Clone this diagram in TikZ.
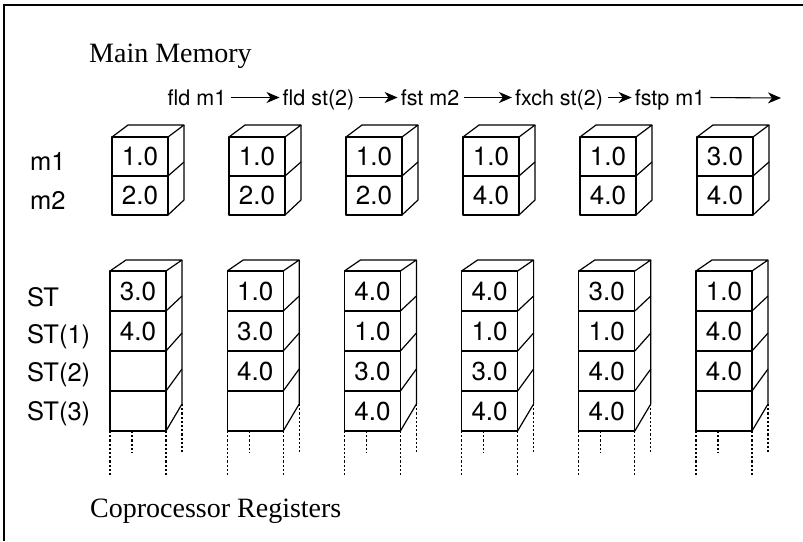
\documentclass[tikz,border=0pt]{standalone}
\usepackage{fontspec}
\setmainfont{Liberation Serif}
\newfontfamily\hv{TeX Gyre Heros}
\usetikzlibrary{arrows.meta}
\begin{document}
\begin{tikzpicture}[x=1pt,y=-1pt,
  edge/.style={line width=1.2pt, line join=round},
  cell/.style={edge, draw, rectangle, minimum width=56pt, minimum height=#1,
    inner sep=0pt, outer sep=0pt, anchor=north west,
    font=\hv\fontsize{26}{30}\selectfont},
  hidden/.style={line width=1.1pt, dash pattern=on 2.2pt off 2pt},
  rowlabel/.style={anchor=base west, inner sep=0pt, font=\hv\fontsize{25.5}{30}\selectfont},
  title/.style={anchor=base west, inner sep=0pt, font=\fontsize{28}{32}\selectfont},
  op/.style={anchor=base, inner sep=0pt, font=\hv\fontsize{21.5}{24}\selectfont},
  flow/.style={line width=1.1pt, shorten <=5pt, shorten >=3pt,
    -{Stealth[length=13pt,width=11pt,inset=4pt]}}
]
\useasboundingbox (0,0) rectangle (803,541);
% frame edges
\draw[line width=1.8pt] (4,541) -- (4,5) -- (803,5);

% section titles
\node[title] (mainmem) at (89,62) {Main Memory};
\node[title] (copro) at (90,517) {Coprocessor Registers};

% instruction sequence
\node[op] (op1) at (197,105) {fld m1};
\node[op] (op2) at (318.5,105) {fld st(2)};
\node[op] (op3) at (430,105) {fst m2};
\node[op] (op4) at (559,105) {fxch st(2)};
\node[op] (op5) at (670,105) {fstp m1};
\coordinate (opend) at (781,98);
\draw[flow] ([yshift=7.5pt]op1.base east) -- ([yshift=7.5pt]op2.base west);
\draw[flow] ([yshift=7.5pt]op2.base east) -- ([yshift=7.5pt]op3.base west);
\draw[flow] ([yshift=7.5pt]op3.base east) -- ([yshift=7.5pt]op4.base west);
\draw[flow] ([yshift=7.5pt]op4.base east) -- ([yshift=7.5pt]op5.base west);
\draw[flow, shorten >=0pt] ([yshift=7.5pt]op5.base east) -- (opend);

% row labels
\node[rowlabel] (lm1) at (30,170) {m1};
\node[rowlabel] (lm2) at (30,209) {m2};
\node[rowlabel] (lst0) at (27,306) {ST};
\node[rowlabel] (lst1) at (27,343) {ST(1)};
\node[rowlabel] (lst2) at (27,381) {ST(2)};
\node[rowlabel] (lst3) at (27,420) {ST(3)};

% memory cells m1, m2
\foreach \i/\a/\b in {0/1.0/2.0,1/1.0/2.0,2/1.0/2.0,3/1.0/4.0,4/1.0/4.0,5/3.0/4.0} {
  \node[cell=39pt] (mA\i) at (112+117*\i,137) {\a};
  \node[cell=39pt] (mB\i) at (mA\i.south west) {\b};
  \draw[edge] (mA\i.north west) -- ([shift={(16,-12)}]mA\i.north west)
    -- ([shift={(16,-12)}]mA\i.north east) -- (mA\i.north east);
  \draw[edge] ([shift={(16,-12)}]mA\i.north east)
    -- ([shift={(16,-15)}]mB\i.south east) -- (mB\i.south east);
  \draw[edge] (mA\i.south east) -- ([shift={(16,-14)}]mA\i.south east);
}

% register stack ST .. ST(3)
\foreach \i/\a/\b/\c/\d in {0/3.0/4.0/{}/{},1/1.0/3.0/4.0/{},2/4.0/1.0/3.0/4.0,
    3/4.0/1.0/3.0/4.0,4/3.0/1.0/4.0/4.0,5/1.0/4.0/4.0/{}} {
  \node[cell=40pt] (rA\i) at (110+117.2*\i,271) {\a};
  \node[cell=40pt] (rB\i) at (rA\i.south west) {\b};
  \node[cell=40pt] (rC\i) at (rB\i.south west) {\c};
  \node[cell=40pt] (rD\i) at (rC\i.south west) {\d};
  \draw[edge] (rA\i.north west) -- ([shift={(16,-11)}]rA\i.north west)
    -- ([shift={(16,-11)}]rA\i.north east) -- (rA\i.north east);
  \draw[edge] ([shift={(16,-11)}]rA\i.north east)
    -- ([shift={(16,-27)}]rD\i.south east) -- (rD\i.south east);
  \draw[edge] (rA\i.south east) -- ([shift={(16,-15)}]rA\i.south east);
  \draw[edge] (rB\i.south east) -- ([shift={(16,-18)}]rB\i.south east);
  \draw[edge] (rC\i.south east) -- ([shift={(16,-22)}]rC\i.south east);
  % the stack continues below
  \draw[hidden] (rD\i.south west) -- ([yshift=-46pt]rD\i.south west);
  \draw[hidden] ([xshift=22pt]rD\i.south west) -- ([shift={(22,22)}]rD\i.south west);
  \draw[hidden] (rD\i.south east) -- ([yshift=-46pt]rD\i.south east);
  \draw[hidden] ([shift={(16,-27)}]rD\i.south east) -- ([shift={(16,22)}]rD\i.south east);
}
\end{tikzpicture}
\end{document}
